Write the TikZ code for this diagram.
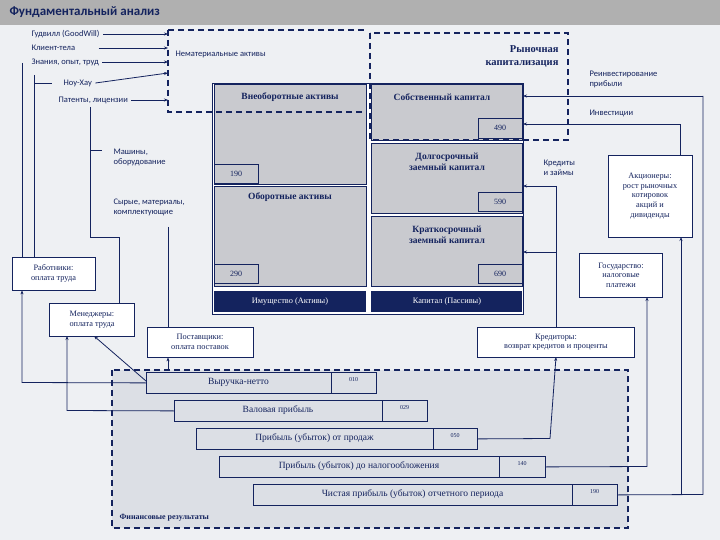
\documentclass[tikz,border=0pt]{standalone}
\usepackage{fontspec}
\setmainfont{Liberation Serif}
\newfontfamily\lab{Carlito}
\usetikzlibrary{arrows.meta}
\definecolor{navy}{HTML}{14235E}
\definecolor{bgc}{HTML}{EEF0F3}
\definecolor{boxc}{HTML}{C9CACF}
\definecolor{finc}{HTML}{DCDFE5}
\definecolor{barc}{HTML}{B0B0B0}
\begin{document}
\begin{tikzpicture}[x=1pt,y=-1pt,
  ln/.style={navy,line width=0.8pt},
  ar/.style={ln,-{Stealth[length=4pt,width=3pt]}},
  dsh/.style={navy,line width=1.6pt,dash pattern=on 6pt off 4pt},
  bx/.style={draw=navy,line width=0.8pt,fill=boxc},
  wbx/.style={draw=navy,line width=0.8pt,fill=white},
  bt/.style={font=\bfseries\fontsize{9.5}{11}\selectfont,text=navy,align=center},
  sm/.style={font=\lab\fontsize{8.5}{10}\selectfont,text=navy},
  bxt/.style={font=\fontsize{8.3}{9.6}\selectfont,text=navy,align=center},
  code/.style={font=\fontsize{8}{9}\selectfont,text=navy},
  bar/.style={font=\fontsize{9.5}{11}\selectfont,text=navy}]
\useasboundingbox (0,0) rectangle (720,540);
\fill[bgc] (0,0) rectangle (720,540);
\fill[barc] (0,0) rectangle (720,25);
\node[anchor=west,font=\lab\bfseries\fontsize{13}{15}\selectfont,text=navy] (title) at (6,12) {Фундаментальный анализ};
% financial results box
\fill[finc] (112,370) rectangle (628,528);
\draw[dsh] (112,370) rectangle (628,528);
\node[anchor=west,font=\bfseries\fontsize{8}{9}\selectfont,text=navy] (fin) at (116,518) {Финансовые результаты};
% balance
\draw[draw=navy,line width=1pt,fill=white] (212,84) rectangle (523,314);
\draw[bx] (214,84) rectangle (366,184);
\draw[bx] (214,186) rectangle (366,286);
\draw[bx] (371,84) rectangle (522,140);
\draw[bx] (371,143) rectangle (522,213);
\draw[bx] (371,216) rectangle (522,286);
\node[bt] (vna) at (290,97) {Внеоборотные активы};
\node[bt] (oa) at (290,197) {Оборотные активы};
\node[bt] (sk) at (442,97) {Собственный капитал};
\node[bt] (dk) at (447,162) {Долгосрочный\\заемный капитал};
\node[bt] (kk) at (447,235) {Краткосрочный\\заемный капитал};
\draw[bx] (214,164) rectangle (258,183); \node[code] (c190) at (236,173.5) {190};
\draw[bx] (214,264) rectangle (258,283); \node[code] (c290) at (236,273.5) {290};
\draw[bx] (478,118) rectangle (522,138); \node[code] (c490) at (500,128) {490};
\draw[bx] (478,192) rectangle (522,211); \node[code] (c590) at (500,201.5) {590};
\draw[bx] (478,264) rectangle (522,283); \node[code] (c690) at (500,273.5) {690};
\fill[navy] (214,291) rectangle (366,312);
\fill[navy] (371,291) rectangle (522,312);
\node[font=\fontsize{8.3}{9}\selectfont,text=white] (im) at (290,301.5) {Имущество (Активы)};
\node[font=\fontsize{8.3}{9}\selectfont,text=white] (kap) at (447,301.5) {Капитал (Пассивы)};
% dashed boxes
\draw[dsh] (168,30) -- (367,30) (168,30) -- (168,112) -- (366,112);
\draw[dsh] (370,33) rectangle (568,140);
\node[sm,anchor=west] (nma) at (172,54) {Нематериальные активы};
\node[bt,align=right,anchor=east,font=\bfseries\fontsize{10.5}{13}\selectfont] (rk) at (562,56) {Рыночная\\капитализация};
% left labels
\node[sm,anchor=west] (gw) at (28,34) {Гудвилл (GoodWill)};
\node[sm,anchor=west] (kt) at (28,48) {Клиент-тела};
\node[sm,anchor=west] (zn) at (28,62) {Знания, опыт, труд};
\node[sm,anchor=west] (nh) at (60,83) {Ноу-Хау};
\node[sm,anchor=west] (pl) at (55,100) {Патенты, лицензии};
\node[sm,anchor=west,align=left] (mo) at (110,157) {Машины,\\оборудование};
\node[sm,anchor=west,align=left] (sm) at (110,207) {Сырые, материалы,\\комплектующие};
\coordinate (i1) at (168,34); \coordinate (i2) at (168,48); \coordinate (i3) at (168,62);
\coordinate (i4) at (168,73); \coordinate (i5) at (168,100);
\draw[ar] (gw.east) -- (i1);
\draw[ar] (kt.east) ++(20,0) coordinate (k0) (k0) -- (i2);
\draw[ar] (zn.east) -- (i3);
\draw[ar] (nh.east) -- (i4);
\draw[ar] (pl.east) -- (i5);
% boxes
\node[wbx,bxt,minimum width=83pt,minimum height=33pt] (rab) at (53.5,273.5) {Работники:\\оплата труда};
\node[wbx,bxt,minimum width=85pt,minimum height=33pt] (men) at (92,319.5) {Менеджеры:\\оплата труда};
\node[wbx,bxt,minimum width=106pt,minimum height=30pt] (pos) at (200,342) {Поставщики:\\оплата поставок};
\node[wbx,bxt,minimum width=157pt,minimum height=30pt] (kred) at (556,342) {Кредиторы:\\возврат кредитов и проценты};
\node[wbx,bxt,minimum width=83pt,minimum height=44pt] (gos) at (621,275) {Государство:\\налоговые\\платежи};
\node[wbx,bxt,minimum width=84pt,minimum height=82pt] (akc) at (650,196) {Акционеры:\\рост рыночных\\котировок\\акций и\\дивиденды};
% left vertical lines
\draw[ln] (22,63) -- (22,257);
\draw[ln] (34,75) -- (34,257);
\draw[ln] (34,83) -- (52,83);
\draw[ln] (90,107) -- (90,237) -- (119,237) -- (119,303);
\draw[ln] (90,150) -- (102,150);
\draw[ln] (168,227) -- (168,327);
% right labels
\node[sm,anchor=west,align=left] (rein) at (586,79) {Реинвестирование\\прибыли};
\node[sm,anchor=west] (inv) at (586,113) {Инвестиции};
\node[sm,anchor=west,align=left] (kz) at (540,168) {Кредиты\\и займы};
% bars
\newcommand{\fbar}[7]{%
 \node[draw=navy,line width=0.8pt,fill=finc,minimum width=#3-#2,minimum height=21pt,inner sep=0pt,anchor=north west] (#1) at (#2,#4) {};
 \draw[navy,line width=0.8pt] (#5,#4) -- (#5,#4+21);
 \node[bar] (#1t) at ({(#2+#5)/2},#4+10.5) {#6};
 \node[font=\fontsize{6}{7}\selectfont,text=navy] (#1c) at ({(#5+#3)/2},#4+8) {#7};}
\fbar{b1}{146}{376}{372}{331}{Выручка-нетто}{010}
\fbar{b2}{174}{427}{400}{382}{Валовая прибыль}{029}
\fbar{b3}{196}{477}{428}{433}{Прибыль (убыток) от продаж}{050}
\fbar{b4}{219}{545}{456}{499}{Прибыль (убыток) до налогообложения}{140}
\fbar{b5}{253}{617}{484}{572}{Чистая прибыль (убыток) отчетного периода}{190}
% connections from bars
\draw[ar] (b1.west) -- (22,382.5) -- (rab.south -| 22,0);
\draw[ar] (b2.west) -- (67,410.5) -- (67,336);
\draw[ar] (146,381) -- (94,336);
\draw[ar] (168,370) -- (pos.south -| 168,0);
\draw[ar] (b3.east) -- (550,438.5) -- (556,357);
\draw[ar] (b4.east) -- (647,466.5) -- (647,297);
\draw[ln] (b5.east) -- (703,494.5) -- (703,96);
\draw[ar] (703,96) -- (523,96);
\draw[ar] (681,494.5) -- (681,237);
\draw[ln] (680,155) -- (680,124);
\draw[ar] (680,124) -- (523,124);
\draw[ln] (556,186) -- (556,327);
\draw[ar] (556,186) -- (523,186);
\draw[ar] (556,252) -- (523,252);
\end{tikzpicture}
\end{document}
